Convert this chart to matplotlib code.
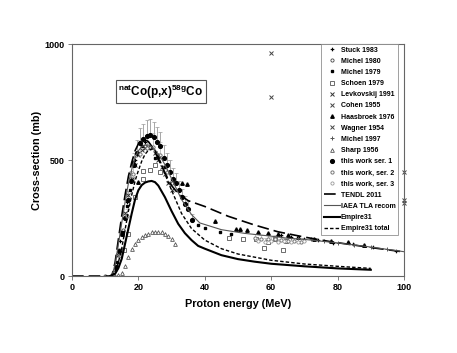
import matplotlib
matplotlib.use("Agg")
import matplotlib.pyplot as plt
import numpy as np

plt.rcParams['font.family'] = ['Liberation Sans', 'DejaVu Sans']
plt.rcParams['mathtext.default'] = 'regular'

# ---------------- model curves ----------------
tendl_x = [0, 12, 13, 14, 15, 16, 17, 18, 19, 20, 21, 22, 23, 24, 25, 26, 27, 28, 29, 30, 32, 35, 40, 47, 55, 62, 70, 78, 90, 100]
tendl_y = [0, 0, 60, 160, 260, 350, 430, 490, 540, 570, 585, 587, 580, 560, 535, 505, 475, 445, 415, 390, 355, 325, 300, 258, 220, 191, 168, 148, 123, 104]

iaea_x = [12, 13, 14, 15, 16, 17, 18, 19, 20, 21, 22, 23, 24, 25, 26, 27, 28, 30, 33, 36, 38.5, 45, 52, 60, 65, 70, 80, 90, 100]
iaea_y = [0, 50, 140, 230, 320, 400, 460, 510, 540, 558, 565, 565, 558, 545, 525, 505, 480, 420, 330, 265, 229, 200, 184, 172, 163, 158, 143, 125, 105]

emp_x = [11.5, 13, 14, 15, 16, 17, 18, 19, 20, 21, 22, 23, 24, 25, 26, 27, 28, 29, 30, 32, 34, 36, 38, 40, 45, 50, 55, 60, 70, 80, 90]
emp_y = [0, 10, 35, 75, 140, 205, 270, 330, 370, 392, 403, 408, 410, 405, 390, 365, 340, 310, 280, 225, 185, 155, 130, 118, 90, 73, 62, 53, 42, 33, 27]

empt_x = [12, 13, 14, 15, 16, 17, 18, 19, 20, 21, 22, 23, 24, 25, 26, 27, 28, 30, 33, 36, 40, 45, 50, 60, 70, 80, 90]
empt_y = [0, 20, 60, 120, 200, 280, 350, 410, 455, 495, 525, 542, 548, 540, 515, 480, 440, 370, 270, 205, 155, 118, 95, 68, 52, 42, 33]

# ---------------- experimental data ----------------
stuck_x = [14.5, 16.5, 19.0, 22.0, 63, 66, 70, 74, 78.7, 84.7, 90.6, 97.5]
stuck_y = [150, 320, 500, 580, 178, 170, 160, 155, 144, 138, 125, 108]

michel80_x = [10.0, 12.0, 13.0, 14.0, 15.5, 18.0, 22.0, 26.0, 30.0]
michel80_y = [2, 3, 25, 90, 200, 420, 560, 520, 400]

michel79_x = [13.5, 15.0, 16.5, 17.5, 18.5, 21.0, 25.0, 26.0, 28.0, 30.0, 36.0, 38.0, 40.0, 44.5, 48.0]
michel79_y = [60, 190, 300, 370, 490, 560, 510, 512, 470, 420, 242, 220, 207, 191, 180]

schoen_x = [15.7, 17.0, 19.0, 21.3, 21.5, 23.5, 25.0, 26.5, 47.4, 51.4, 55.4, 57.9, 59.1, 61.0, 63.6, 64.5]
schoen_y = [111, 183, 339, 452, 418, 457, 478, 450, 164, 161, 158, 122, 147, 160, 114, 150]

levk_x = [14, 15, 16, 17, 18, 19, 20, 21, 22, 23, 24, 25, 26, 27, 28, 29, 30]
levk_y = [90, 180, 270, 350, 420, 480, 520, 545, 550, 555, 550, 530, 500, 470, 440, 400, 370]

cohen_x = [60, 60]
cohen_y = [960, 770]

haas_x = [20.0, 33.1, 34.5, 43.0, 49.4, 50.5, 52.6, 56, 59, 62, 65, 68, 73, 78, 83, 88]
haas_y = [406, 402, 395, 236, 205, 205, 197, 190, 185, 180, 175, 170, 160, 150, 145, 135]

wagner_x = [100, 100, 100]
wagner_y = [450, 330, 313]

michel97_x = [68, 72, 76, 80, 85, 90, 95]
michel97_y = [165, 158, 150, 143, 135, 125, 118]

sharp_x = [13, 14, 15, 16, 17, 18, 19, 20, 21, 22, 23, 24, 25, 26, 27, 28, 29, 30, 31]
sharp_y = [0, 3, 15, 43, 80, 115, 140, 157, 167, 175, 183, 188, 192, 192, 188, 182, 172, 160, 140]

ser1_x = [13.2, 14.1, 15.0, 15.9, 16.8, 17.7, 18.6, 19.5, 20.5, 21.5, 22.6, 23.6, 24.6, 25.6, 26.6, 27.6, 28.6, 29.5, 30.4, 31.4, 32.3, 33.2, 34.1, 35.0, 36.0]
ser1_y = [40, 110, 180, 250, 330, 410, 480, 530, 575, 590, 605, 610, 600, 580, 560, 510, 480, 450, 420, 400, 370, 340, 310, 290, 240]
ser1_err = [5, 12, 20, 28, 36, 45, 52, 58, 62, 64, 66, 66, 65, 63, 61, 56, 52, 49, 46, 44, 40, 37, 34, 32, 27]

ser2_x = [14.5, 16.5, 18.5, 20.5, 22.5, 24.5, 26.5, 28.5, 55, 57, 59, 61, 63, 65, 67, 69]
ser2_y = [90, 260, 440, 525, 550, 555, 520, 450, 165, 160, 158, 160, 155, 152, 150, 148]
ser2_err = [10, 28, 48, 57, 60, 60, 56, 49, 18, 18, 17, 18, 17, 17, 16, 16]

ser3_x = [56, 58, 60, 62, 64, 66, 68, 70]
ser3_y = [150, 148, 152, 145, 150, 148, 145, 150]
ser3_err = [16, 16, 17, 16, 16, 16, 16, 16]

fig = plt.figure(figsize=(4.57, 3.53), dpi=100)
ax = fig.add_axes([0.1575, 0.218, 0.7265, 0.657])

ms = 2.3
ax.errorbar(ser1_x, ser1_y, yerr=[np.zeros(len(ser1_err)), ser1_err], fmt='none', ecolor='#999999', elinewidth=0.6, capsize=1.5, capthick=0.5, zorder=2)
ax.errorbar(ser2_x, ser2_y, yerr=[np.zeros(len(ser2_err)), ser2_err], fmt='none', ecolor='#aaaaaa', elinewidth=0.5, capsize=1.2, capthick=0.4, zorder=2)
ax.errorbar(ser3_x, ser3_y, yerr=[np.zeros(len(ser3_err)), ser3_err], fmt='none', ecolor='#aaaaaa', elinewidth=0.5, capsize=1.2, capthick=0.4, zorder=2)

h = []
h.append(ax.plot(stuck_x, stuck_y, linestyle='none', marker='P', ms=ms + 0.3, color='black', mew=0, label='Stuck 1983')[0])
h.append(ax.plot(michel80_x, michel80_y, linestyle='none', marker='o', ms=ms, mfc='white', mec='#444444', mew=0.6, label='Michel 1980')[0])
h.append(ax.plot(michel79_x, michel79_y, linestyle='none', marker='s', ms=ms - 0.2, color='black', label='Michel 1979')[0])
h.append(ax.plot(schoen_x, schoen_y, linestyle='none', marker='s', ms=ms + 0.6, mfc='white', mec='#555555', mew=0.6, label='Schoen 1979')[0])
h.append(ax.plot(levk_x, levk_y, linestyle='none', marker='x', ms=ms, color='#333333', mew=0.7, label='Levkovskij 1991')[0])
h.append(ax.plot(cohen_x, cohen_y, linestyle='none', marker='x', ms=ms, color='#444444', mew=0.7, label='Cohen 1955', clip_on=False)[0])
h.append(ax.plot(haas_x, haas_y, linestyle='none', marker='^', ms=ms + 0.2, color='black', label='Haasbroek 1976')[0])
h.append(ax.plot(wagner_x, wagner_y, linestyle='none', marker='x', ms=ms, color='#444444', mew=0.7, label='Wagner 1954', clip_on=False)[0])
h.append(ax.plot(michel97_x, michel97_y, linestyle='none', marker='+', ms=ms + 0.5, color='#555555', mew=0.7, label='Michel 1997')[0])
h.append(ax.plot(sharp_x, sharp_y, linestyle='none', marker='^', ms=ms + 0.4, mfc='white', mec='#555555', mew=0.6, label='Sharp 1956')[0])
h.append(ax.plot(ser1_x, ser1_y, linestyle='none', marker='o', ms=ms + 0.4, color='black', label='this work ser. 1')[0])
h.append(ax.plot(ser2_x, ser2_y, linestyle='none', marker='o', ms=ms, mfc='white', mec='#777777', mew=0.7, label='this work, ser. 2')[0])
h.append(ax.plot(ser3_x, ser3_y, linestyle='none', marker='o', ms=ms, mfc='white', mec='#999999', mew=0.6, label='this work, ser. 3')[0])

h.append(ax.plot(tendl_x, tendl_y, color='black', lw=1.2, dashes=(7, 3), label='TENDL 2011')[0])
h.append(ax.plot(iaea_x, iaea_y, color='#555555', lw=0.8, label='IAEA TLA recom')[0])
h.append(ax.plot(emp_x, emp_y, color='black', lw=1.5, label='Empire31')[0])
h.append(ax.plot(empt_x, empt_y, color='black', lw=1.0, dashes=(2.5, 1.5), label='Empire31 total')[0])

ax.set_xlim(0, 100)
ax.set_ylim(0, 1000)
ax.set_xticks([0, 20, 40, 60, 80, 100])
ax.set_yticks([0, 500, 1000])
for s in ax.spines.values():
    s.set_color('#666666')
    s.set_linewidth(0.8)
ax.tick_params(direction='out', length=3, width=0.6, colors='#666666', labelcolor='black', labelsize=6.5, pad=2)
for lab in ax.get_xticklabels() + ax.get_yticklabels():
    lab.set_fontweight('bold')
ax.set_xlabel('Proton energy (MeV)', fontsize=7.8, fontweight='bold', labelpad=5)
ax.set_ylabel('Cross-section (mb)', fontsize=7.8, fontweight='bold', labelpad=2)

leg = ax.legend(handles=h, loc='upper right', bbox_to_anchor=(0.982, 1.0), borderaxespad=0,
                frameon=True, fancybox=False, edgecolor='#888888',
                handlelength=2.3, handletextpad=0.15, labelspacing=0.6, borderpad=0.35,
                prop={'weight': 'bold', 'size': 5.0})
leg.get_frame().set_linewidth(0.7)

ax.text(0.268, 0.795, r'$^{nat}$Co(p,x)$^{58g}$Co', transform=ax.transAxes, ha='center', va='center',
        fontsize=8.5, fontweight='bold',
        bbox=dict(boxstyle='square,pad=0.2', fc='white', ec='#555555', lw=0.8))

fig.savefig('out.png', dpi=100)
